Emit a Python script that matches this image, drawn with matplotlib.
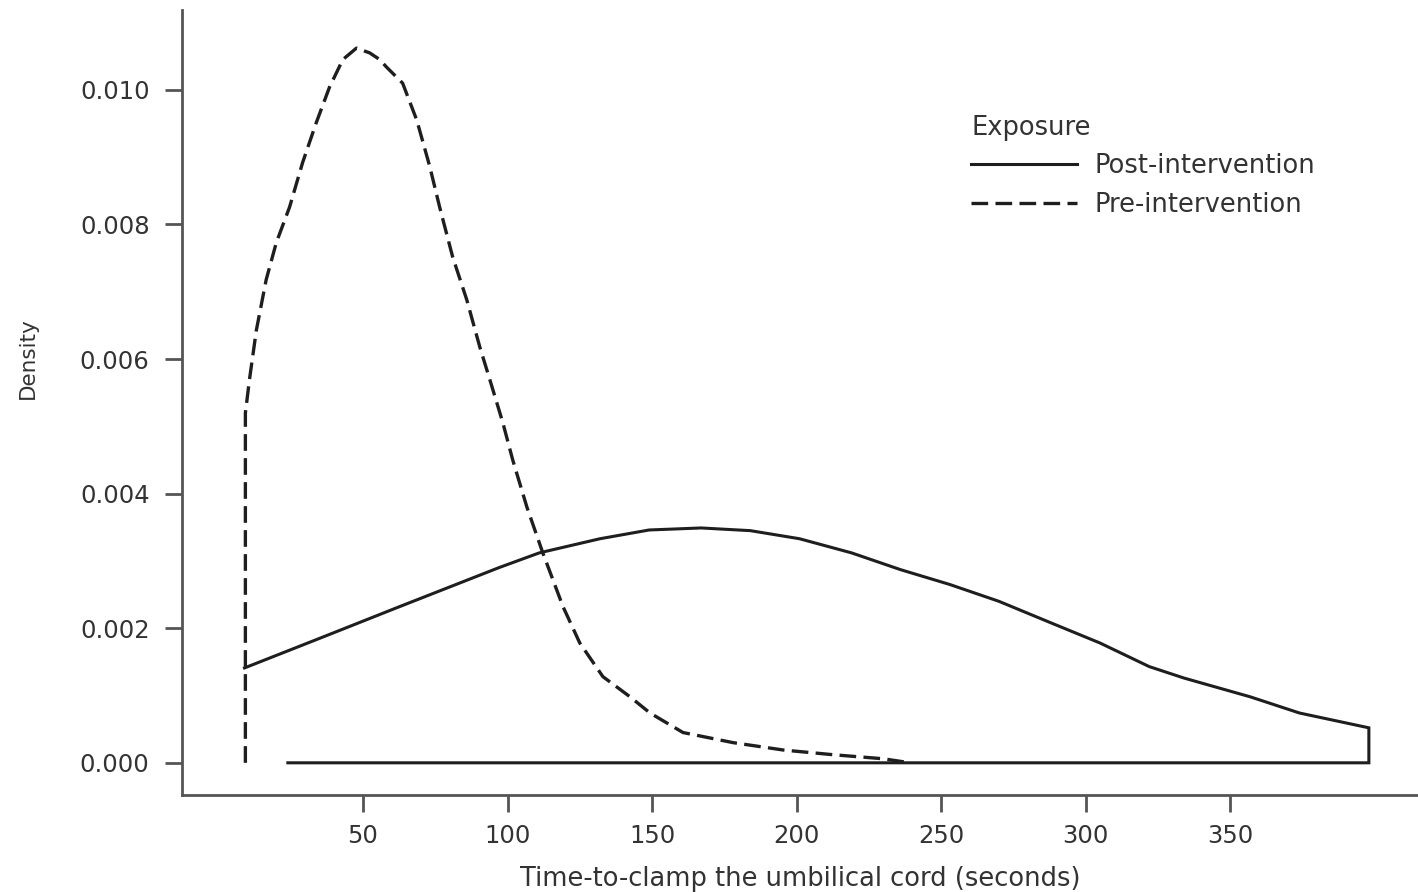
import matplotlib.pyplot as plt
from matplotlib.lines import Line2D

# Kernel density traces (seconds, density)
post_x = [9, 35, 62, 97, 111, 132, 149, 167, 184, 201, 219, 236, 253, 270,
          288, 305, 322, 334, 357, 374, 398]
post_y = [0.00141, 0.00185, 0.00231, 0.00290, 0.00312, 0.00333, 0.00346,
          0.00349, 0.00345, 0.00333, 0.00312, 0.00287, 0.00265, 0.00240,
          0.00208, 0.00178, 0.00143, 0.00126, 0.00098, 0.00074, 0.00052]
post_base_start = 24

pre_x = [9.3, 9.3, 10.7, 13.1, 16.5, 20, 24.6, 29.1, 33.8, 38.4, 43, 47.7,
         52.3, 55.8, 58.1, 63.7, 68.6, 73.1, 76.5, 81, 85.9, 90.4, 93.9,
         98.4, 101.8, 106.7, 112.2, 119.2, 125, 133, 142.4, 149.3, 160.7,
         178, 195.4, 212.7, 230, 239.3]
pre_y = [0.0, 0.0052, 0.00569, 0.00643, 0.00718, 0.00773, 0.00826, 0.00892,
         0.00951, 0.01004, 0.01045, 0.01062, 0.01055, 0.01045, 0.01034,
         0.0101, 0.00955, 0.00886, 0.00826, 0.00752, 0.00688, 0.00618,
         0.00569, 0.00505, 0.0045, 0.0038, 0.00312, 0.00232, 0.00178,
         0.00128, 0.00098, 0.00074, 0.00045, 0.0003, 0.00019, 0.00012,
         0.00006, 0.0]

x_ticks = [50, 100, 150, 200, 250, 300, 350]
y_ticks = [0.000, 0.002, 0.004, 0.006, 0.008, 0.010]

LINE = "#1e1e1e"
AXIS = "#555555"
TEXT = "#333333"
DASH = (5, 2.2)

plt.rcParams["font.family"] = ["DejaVu Sans"]

fig = plt.figure(figsize=(14.18, 8.92), dpi=100)
ax = fig.add_axes([0.128, 0.109, 0.872, 0.880])

# solid curve is drawn as a closed-off density outline
ax.plot(post_x + [post_x[-1], post_base_start], post_y + [0, 0],
        color=LINE, lw=2.2, solid_joinstyle="miter")
ax.plot(pre_x, pre_y, color=LINE, lw=2.4, dashes=DASH)

ax.set_xlim(-12.8, 415)
ax.set_ylim(-0.000475, 0.01119)
ax.set_xticks(x_ticks)
ax.set_yticks(y_ticks)
ax.set_yticklabels([f"{v:.3f}" for v in y_ticks])

for side in ("top", "right"):
    ax.spines[side].set_visible(False)
for side in ("left", "bottom"):
    ax.spines[side].set_color(AXIS)
    ax.spines[side].set_linewidth(2)
ax.tick_params(axis="both", direction="out", length=12, width=2,
               color=AXIS, labelcolor=TEXT, labelsize=17.5)
ax.tick_params(axis="x", pad=9)
ax.tick_params(axis="y", pad=11)

ax.set_xlabel("Time-to-clamp the umbilical cord (seconds)", fontsize=18.5,
              color=TEXT, labelpad=13)
fig.text(28 / 1418, 1 - 358 / 892, "Density", rotation=90, fontsize=15.5,
         color=TEXT, ha="center", va="center")

handles = [Line2D([], [], color=LINE, lw=2.2),
           Line2D([], [], color=LINE, lw=2.4, dashes=DASH)]
leg = ax.legend(handles, ["Post-intervention", "Pre-intervention"],
                title="Exposure", loc="upper left",
                bbox_to_anchor=(0.62, 0.895), frameon=False, fontsize=18.5,
                title_fontsize=18.5, handlelength=4.1, handletextpad=0.7,
                labelspacing=0.47, alignment="left")
for t in leg.get_texts():
    t.set_color(TEXT)
leg.get_title().set_color(TEXT)

fig.savefig("out.png", dpi=100)
